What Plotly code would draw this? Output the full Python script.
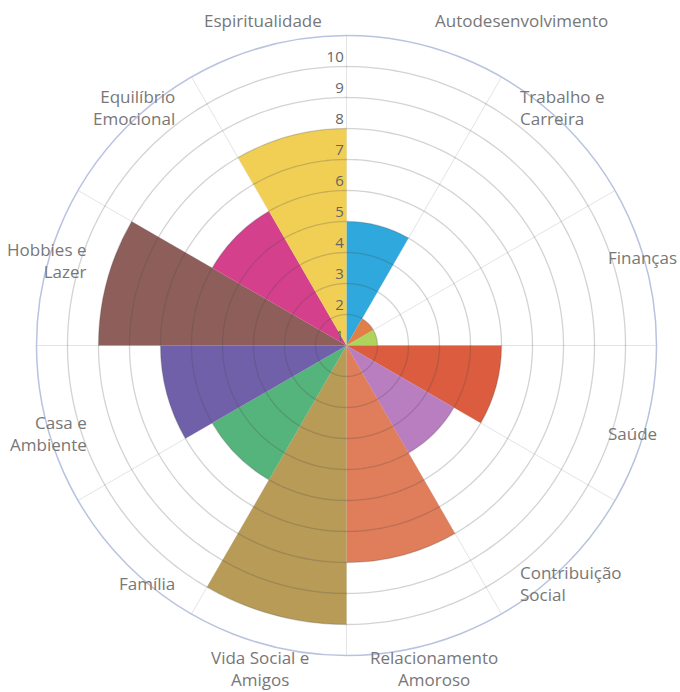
import plotly.graph_objects as go

categories = ["Autodesenvolvimento", "Trabalho e<br>Carreira", "Finanças", "Saúde",
              "Contribuição<br>Social", "Relacionamento<br>Amoroso", "Vida Social e<br>Amigos",
              "Família", "Casa e<br>Ambiente", "Hobbies e<br>Lazer", "Equilíbrio<br>Emocional",
              "Espiritualidade"]
values = [4, 1, 1, 5, 4, 7, 9, 5, 6, 8, 5, 7]
colors = ["#2fa8dd", "#e07f48", "#add45c", "#db5c3f", "#b97ec0", "#e07d5a",
          "#b89b57", "#55b47b", "#7060aa", "#8e5f5a", "#d5408c", "#f1cf55"]
tick_values = [1, 2, 3, 4, 5, 6, 7, 8, 9, 10]

W, H = 680, 692
# label anchor pixels (x, y, xanchor)
label_pos = [(433, 20, "left"), (518, 108, "left"), (606, 258, "left"), (606, 433, "left"),
             (518, 583, "left"), (434, 668, "center"), (260, 668, "center"),
             (177, 583, "right"), (89, 433, "right"), (89, 260, "right"),
             (177, 108, "right"), (263, 20, "center")]

sector = 360 / len(categories)
thetas = [i * sector + sector / 2 for i in range(len(categories))]

fig = go.Figure()
fig.add_trace(go.Barpolar(r=values, theta=thetas, width=[sector] * len(values),
                          marker=dict(color=colors, line=dict(width=0)),
                          hoverinfo="skip"))
# grid circles drawn over bars
circ_theta = list(range(0, 361))
for t in tick_values[:-1]:
    fig.add_trace(go.Scatterpolar(r=[t] * len(circ_theta), theta=circ_theta, mode="lines",
                                  line=dict(color="rgba(70,70,70,0.24)", width=1.3),
                                  hoverinfo="skip", showlegend=False))

fig.update_layout(
    width=W, height=H, margin=dict(l=0, r=0, t=0, b=0),
    paper_bgcolor="white", plot_bgcolor="white", showlegend=False,
    font=dict(family="Open Sans", color="#777"),
    polar=dict(
        domain=dict(x=[36.5 / W, 656.5 / W], y=[1 - 655.5 / H, 1 - 35.5 / H]),
        bgcolor="white",
        angularaxis=dict(direction="clockwise", rotation=90, tickvals=[i * sector for i in range(12)],
                         showticklabels=False, ticks="", gridcolor="#e4e4e4", gridwidth=1.2,
                         showline=True, linecolor="#b9c3e0", linewidth=1.5),
        radialaxis=dict(range=[0, 10], showgrid=False, showline=False, ticks="",
                        angle=90, tickangle=90, side="counterclockwise",
                        tickvals=[v - 0.69 for v in tick_values], ticktext=[str(v) for v in tick_values],
                        tickfont=dict(size=15, color="#666", family="Open Sans")),
    ),
)

for name, (px, py, xa) in zip(categories, label_pos):
    fig.add_annotation(text=name, x=px / W, y=1 - py / H, xref="paper", yref="paper",
                       xanchor=xa, yanchor="middle", showarrow=False, align=xa,
                       font=dict(size=17, color="#777", family="Open Sans"))

fig.write_html("out.html", config={"displayModeBar": False},
               post_script="document.body.style.margin='0';document.body.style.overflow='hidden';")
